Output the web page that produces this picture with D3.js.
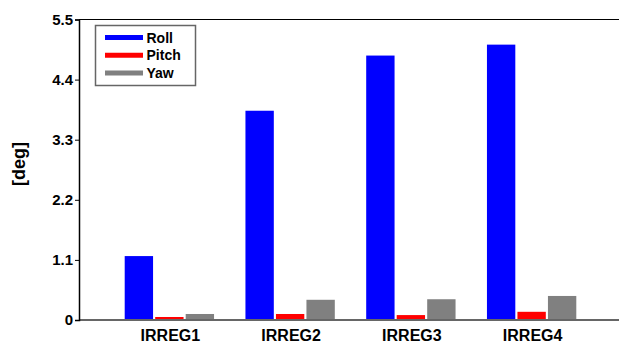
<!DOCTYPE html>
<html>
<head>
<meta charset="utf-8">
<script src="https://cdn.jsdelivr.net/npm/d3@7"></script>
<style>
  html, body { margin: 0; padding: 0; background: #fff; }
  svg { display: block; }
  text { font-family: "Liberation Sans", Arial, sans-serif; font-weight: bold; fill: #000; }
</style>
</head>
<body>
<svg id="chart" width="619" height="344"></svg>
<script>
// Irregular-wave cases and the motion amplitude per axis
const categories = ["IRREG1", "IRREG2", "IRREG3", "IRREG4"];
const seriesNames = ["Roll", "Pitch", "Yaw"];
const seriesColors = ["#0000ff", "#ff0000", "#808080"];
const roll  = [1.17, 3.83, 4.84, 5.04];
const pitch = [0.055, 0.11, 0.09, 0.15];
const yaw   = [0.11, 0.37, 0.38, 0.44];
const yTicks = [0, 1.1, 2.2, 3.3, 4.4, 5.5];
const yLabel = "[deg]";

const values = [roll, pitch, yaw];

const svg = d3.select("#chart");
const W = 619, H = 344;
const plotLeft = 79, plotTop = 19.5, plotBottom = 320;

const y = d3.scaleLinear().domain([0, 5.5]).range([plotBottom, plotTop]);

const x0 = d3.scaleBand().domain(categories)
  .range([109, 592]).paddingInner(0.26).paddingOuter(0.13);
const x1 = d3.scaleBand().domain(seriesNames)
  .range([0, x0.bandwidth()]).paddingInner(0.07);

// bars
const groups = svg.append("g").selectAll("g")
  .data(categories)
  .join("g")
  .attr("transform", d => `translate(${x0(d)},0)`);

groups.selectAll("rect")
  .data((c, i) => seriesNames.map((s, k) => ({ s, k, v: values[k][i] })))
  .join("rect")
  .attr("x", d => x1(d.s))
  .attr("width", x1.bandwidth())
  .attr("y", d => y(d.v))
  .attr("height", d => y(0) - y(d.v))
  .attr("fill", d => seriesColors[d.k]);

// top frame line
svg.append("line")
  .attr("x1", plotLeft).attr("x2", W)
  .attr("y1", plotTop).attr("y2", plotTop)
  .attr("stroke", "#000").attr("stroke-width", 1);

// x baseline
svg.append("line")
  .attr("x1", plotLeft).attr("x2", W)
  .attr("y1", y(0)).attr("y2", y(0))
  .attr("stroke", "#666").attr("stroke-width", 2);

// y axis
const yAxis = d3.axisLeft(y).tickValues(yTicks)
  .tickFormat(d => d === 0 ? "0" : d3.format(".1f")(d))
  .tickSize(4).tickPadding(2);
const ya = svg.append("g").attr("transform", `translate(${plotLeft},0)`).call(yAxis);
ya.select(".domain").attr("stroke", "#000").attr("stroke-width", 1.5);
ya.selectAll(".tick line").attr("stroke", "#000").attr("stroke-width", 1);
ya.selectAll(".tick text")
  .style("font-family", "'Liberation Sans', Arial, sans-serif")
  .style("font-weight", "bold")
  .style("font-size", "15px")
  .attr("fill", "#000");

// x category labels
svg.append("g").selectAll("text")
  .data(categories)
  .join("text")
  .attr("x", d => x0(d) + x0.bandwidth() / 2 + 1)
  .attr("y", 341)
  .attr("text-anchor", "middle")
  .style("font-size", "16px")
  .text(d => d);

// y label
svg.append("text")
  .attr("transform", "translate(18.5,164) rotate(-90)")
  .attr("text-anchor", "middle")
  .attr("dominant-baseline", "central")
  .style("font-size", "18px")
  .text(yLabel);

// legend
const lg = svg.append("g");
lg.append("rect")
  .attr("x", 95.5).attr("y", 25.5)
  .attr("width", 100).attr("height", 60)
  .attr("fill", "#fff").attr("stroke", "#666").attr("stroke-width", 1.5);
seriesNames.forEach((s, k) => {
  const cy = 37.5 + k * 17.7;
  lg.append("line")
    .attr("x1", 105).attr("x2", 143)
    .attr("y1", cy).attr("y2", cy)
    .attr("stroke", seriesColors[k]).attr("stroke-width", 5);
  lg.append("text")
    .attr("x", 146.5).attr("y", cy + 5)
    .style("font-size", "14px")
    .text(s);
});
</script>
</body>
</html>
